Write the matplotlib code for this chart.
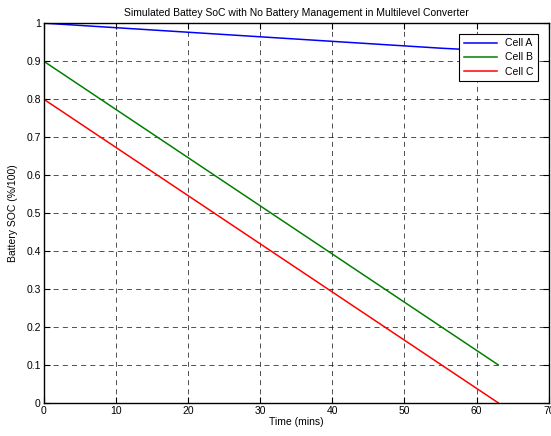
import matplotlib
matplotlib.use("Agg")
import matplotlib.pyplot as plt
import numpy as np

# values
time_a=[0,5,10,15,20,25,30,35,40,45,50,55,60,63]
soc_a=[1.0,0.994,0.988,0.982,0.976,0.970,0.964,0.958,0.952,0.946,0.940,0.934,0.929,0.925]
time_bc=[0,63]
soc_b=[0.9,0.1]
soc_c=[0.8,0.0]

plt.rcParams['font.family']=['Liberation Sans','DejaVu Sans']

fig=plt.figure(figsize=(5.51,4.36),dpi=100)
ax=fig.add_axes([0.079,0.076,0.917,0.871])

ax.plot(time_a,soc_a,color=(0,0,1),lw=1.1,label="Cell A")
ax.plot(time_bc,soc_b,color=(0,0.5,0),lw=1.1,label="Cell B")
ax.plot(time_bc,soc_c,color=(1,0,0),lw=1.1,label="Cell C")

ax.set_xlim(0,70)
ax.set_ylim(0,1)
ax.set_xticks(np.arange(0,71,10))
ax.set_yticks(np.arange(0,1.01,0.1))
ax.set_yticklabels(["0","0.1","0.2","0.3","0.4","0.5","0.6","0.7","0.8","0.9","1"])
ax.tick_params(direction="in",top=True,right=True,labelsize=7.5,length=4,width=0.8,pad=2)
ax.grid(True,color="black",linestyle=(0,(6,5)),lw=0.6,alpha=0.8)
for s in ax.spines.values():
    s.set_linewidth(1.0)

ax.set_title("Simulated Battey SoC with No Battery Management in Multilevel Converter",fontsize=7.5,pad=5)
ax.set_xlabel("Time (mins)",fontsize=7.5,labelpad=1)
ax.set_ylabel("Battery SOC (%/100)",fontsize=7.5,labelpad=6)

leg=ax.legend(loc="upper right",fontsize=7.5,fancybox=False,framealpha=1,edgecolor="black",
              borderaxespad=1.0,handlelength=3.2,labelspacing=0.4,borderpad=0.45)
leg.get_frame().set_linewidth(0.8)

fig.savefig("out.png",dpi=100)
